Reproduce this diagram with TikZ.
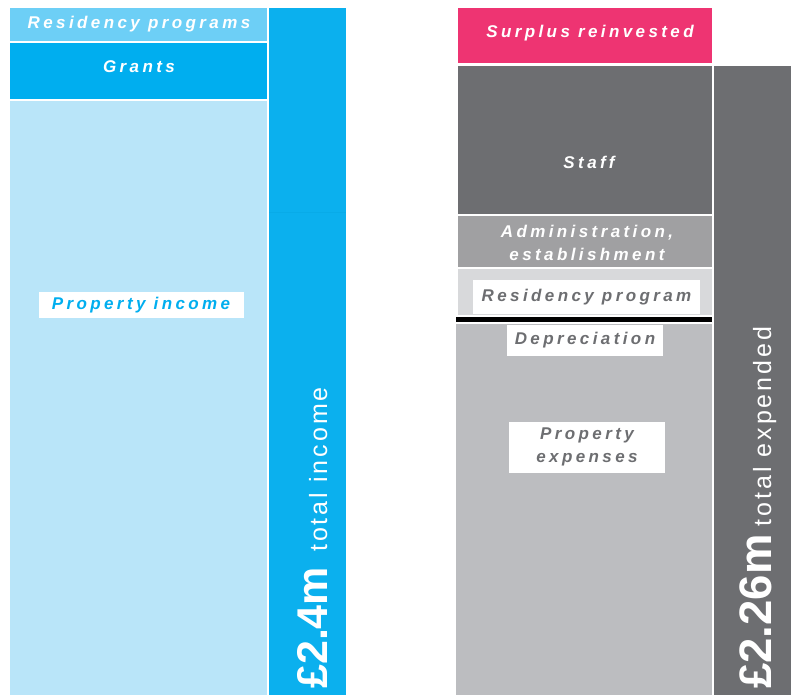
\documentclass[tikz,border=0pt]{standalone}
\usepackage{fontspec}
\setmainfont{Liberation Sans}
\newfontfamily\blockfont[LetterSpace=20]{Liberation Sans}
\newfontfamily\totalfont[LetterSpace=12]{Liberation Sans}

\definecolor{resblue}{HTML}{6DCFF6}
\definecolor{grantblue}{HTML}{00AEEF}
\definecolor{propblue}{HTML}{B9E5F9}
\definecolor{totalblue}{HTML}{0BB0EE}
\definecolor{surpluspink}{HTML}{EE3472}
\definecolor{staffgrey}{HTML}{6D6E71}
\definecolor{admingrey}{HTML}{A0A0A2}
\definecolor{resgrey}{HTML}{D8D9DB}
\definecolor{propgrey}{HTML}{BCBDC0}

% big figure, then a gap before the small words
\newcommand{\bigsum}[3]{{\setmainfont{Liberation Sans}\fontsize{#1}{#1}\selectfont\bfseries #3}\hspace{#2}}

\begin{document}
\begin{tikzpicture}[x=1pt, y=-1pt,
    lbl/.style={font=\blockfont\bfseries\itshape\fontsize{17}{23}\selectfont,
                text=white, align=center, inner sep=0pt},
    tag/.style={lbl, fill=white, inner xsep=8pt, inner ysep=5pt},
    total/.style={rotate=90, anchor=base west, text=white, inner sep=0pt,
                  font=\totalfont\fontsize{25}{25}\selectfont}]
    \useasboundingbox (0,0) rectangle (795,695);

    % income side
    \fill[resblue] (10,8) rectangle (267,41);
    \fill[grantblue] (10,43) rectangle (267,99);
    \fill[propblue] (10,101) rectangle (267,695);
    \fill[totalblue] (269,8) rectangle (346,695);
    \draw[grantblue!90!black, opacity=0.25] (269,212) -- (346,212);

    \node[lbl] (residency) at (139,24) {Residency programs};
    \node[lbl] (grants) at (139,67) {Grants};
    \node[tag, text=grantblue, minimum width=205pt, minimum height=26pt]
        (propincome) at (141,305) {Property income};
    \node[total] (income) at (327,689) {\bigsum{43}{15pt}{£2.4m}total income};

    % expenditure side
    \fill[surpluspink] (458,8) rectangle (712,63);
    \fill[staffgrey] (458,66) rectangle (712,214);
    \fill[admingrey] (458,216) rectangle (712,267);
    \fill[resgrey] (458,269) rectangle (712,315);
    \fill[black] (456,317) rectangle (712,322);
    \fill[propgrey] (456,324) rectangle (712,695);
    \fill[staffgrey] (714,66) rectangle (791,695);

    \node[lbl] (surplus) at (590,33) {Surplus reinvested};
    \node[lbl] (staff) at (589,162) {Staff};
    \node[lbl] (admin) at (587,243) {Administration,\\establishment};
    \node[tag, text=staffgrey, minimum width=227pt, minimum height=34pt]
        (resprog) at (586.5,297) {Residency program};
    \node[tag, text=staffgrey, minimum width=156pt, minimum height=31pt]
        (deprec) at (585,340) {Depreciation};
    \node[tag, text=staffgrey, minimum width=156pt, minimum height=51pt]
        (propexp) at (587,447) {Property\\expenses};
    \node[total] (expended) at (771,689) {\bigsum{45.5}{8pt}{£2.26m}total expended};
\end{tikzpicture}
\end{document}
